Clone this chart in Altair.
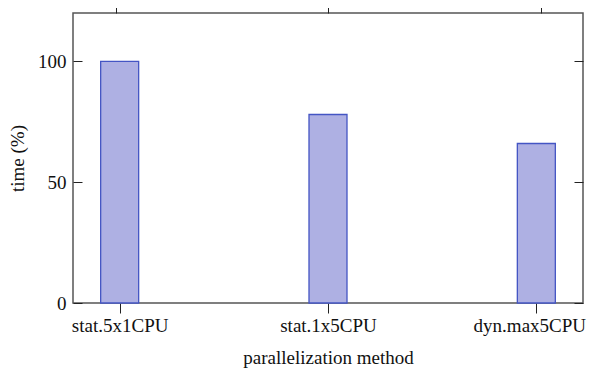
import json
import altair as alt
import pandas as pd

categories = ["stat.5x1CPU", "stat.1x5CPU", "dyn.max5CPU"]
positions = [0, 1, 2]
values = [100, 78, 66]
y_ticks = [0, 50, 100]

df = pd.DataFrame({"method": categories, "pos": positions, "time": values})

label_expr = json.dumps(categories) + "[datum.value]"
FONT = "Liberation Serif"

xscale = alt.Scale(domain=[-0.2, 2.2], nice=False, zero=False)
yscale = alt.Scale(domain=[0, 120], nice=False)

last_pos = positions[-1]

bars = alt.Chart(df).mark_bar(
    size=38, fill="#aeb0e3", stroke="#4455c4", strokeWidth=1.3
).encode(
    x=alt.X("pos:Q", scale=xscale, title="parallelization method",
            axis=alt.Axis(orient="bottom", values=positions, labelExpr=label_expr,
                          domain=False, grid=False, tickSize=10, tickColor="#222",
                          labelPadding=3, titlePadding=13,
                          labelOffset={"condition": {"test": f"datum.value == {last_pos}",
                                                     "value": -7},
                                       "value": 0})),
    y=alt.Y("time:Q", scale=yscale, title="time (%)",
            axis=alt.Axis(orient="left", values=y_ticks, domain=False, grid=False,
                          offset=-9, tickSize=9, tickColor="#222",
                          labelPadding=7, titlePadding=10)),
)

frame = alt.Chart(df).mark_point(opacity=0).encode(
    x=alt.X("pos:Q", scale=xscale,
            axis=alt.Axis(orient="top", values=positions, labels=False, title=None,
                          domain=False, grid=False, tickSize=10, tickColor="#222")),
    y=alt.Y("time:Q", scale=yscale,
            axis=alt.Axis(orient="right", values=y_ticks, labels=False, title=None,
                          domain=False, grid=False, offset=-9, tickSize=9,
                          tickColor="#222")),
)

chart = alt.layer(bars, frame).resolve_scale(
    x="independent", y="independent"
).properties(
    width=510, height=290,
    autosize=alt.AutoSizeParams(type="none"),
    padding={"left": 65, "top": 5, "right": 6, "bottom": 66},
).configure_view(
    stroke="#555", strokeWidth=1.5
).configure_axis(
    labelFont=FONT, titleFont=FONT, labelFontSize=19, titleFontSize=19,
    labelColor="#111", titleColor="#111", titleFontWeight="normal",
)

chart.save("out.html", embed_options={"renderer": "svg", "actions": False})
